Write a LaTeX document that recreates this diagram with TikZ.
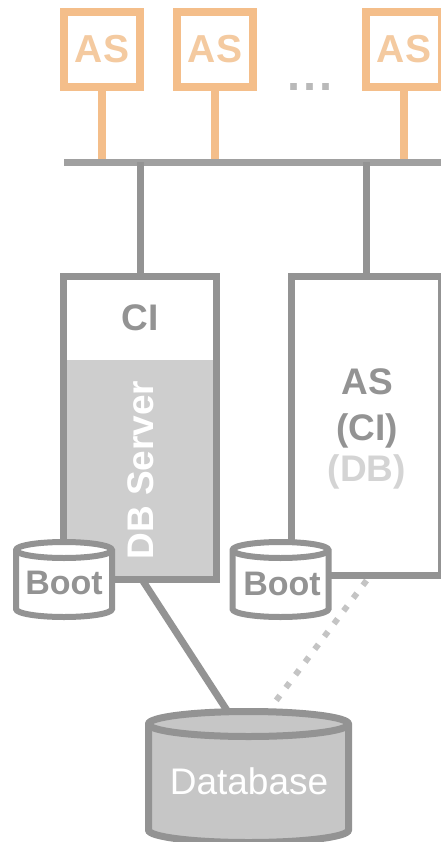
\documentclass[tikz,border=0pt]{standalone}
\usepackage{fontspec}
\setmainfont{Liberation Sans}
\pgfdeclarelayer{bg}
\pgfsetlayers{bg,main}
\definecolor{lgray}{HTML}{939393}
\definecolor{busgray}{HTML}{A0A0A0}
\definecolor{tgray}{HTML}{939393}
\definecolor{fillgray}{HTML}{CECECE}
\definecolor{dbbody}{HTML}{C6C6C6}
\definecolor{dbtopc}{HTML}{D4D4D4}
\definecolor{paledb}{HTML}{D4D4D4}
\definecolor{dotgray}{HTML}{C4C4C4}
\definecolor{asorange}{HTML}{F4BE8A}
\definecolor{astext}{HTML}{F4CAA0}
\newcommand{\mycyl}[6]{%
  \draw[#6] (#1-#4,#2) -- (#1-#4,#3)
     arc[start angle=180,end angle=360,x radius=#4,y radius=#5]
     -- (#1+#4,#2)
     arc[start angle=0,end angle=180,x radius=#4,y radius=#5] -- cycle;
  \draw[#6,fill=none] (#1-#4,#2)
     arc[start angle=180,end angle=360,x radius=#4,y radius=#5];}
\tikzset{
  asbox/.style={draw=asorange, line width=8pt, fill=white, minimum width=76pt,
    minimum height=75pt, inner sep=0pt, outer sep=0pt, text=astext,
    font=\bfseries\fontsize{39}{42}\selectfont},
  graybox/.style={draw=lgray, line width=7pt, fill=white, inner sep=0pt, outer sep=0pt},
  biglabel/.style={font=\bfseries\fontsize{37}{40}\selectfont, text=tgray, inner sep=0pt},
  bootlabel/.style={font=\bfseries\fontsize{34}{38}\selectfont, text=tgray, inner sep=0pt},
  orangelink/.style={draw=asorange, line width=8pt},
  graylink/.style={draw=lgray, line width=7pt},
  buslink/.style={draw=busgray, line width=7pt},
  dotlink/.style={draw=dotgray, line width=6pt, dash pattern=on 6pt off 10pt},
  cylstyle/.style={draw=lgray, line width=6pt, fill=white},
  dbcyl/.style={draw=lgray, line width=7pt, fill=dbbody},
}
\begin{document}
\begin{tikzpicture}[x=1pt,y=1pt]
\useasboundingbox (0,0) rectangle (441,-842);
% application servers
\node[asbox] (as1) at (102,-49.5) {AS};
\node[asbox] (as2) at (215,-49.5) {AS};
\node[asbox] (as3) at (404,-49.5) {AS};
\node[font=\bfseries\fontsize{47}{50}\selectfont, text=lightgray!90!gray, anchor=base, inner sep=0pt] (dots) at (310,-91) {.\kern2.5pt.\kern2.5pt.};
% bus
\coordinate (busL) at (64,-162.5);
\coordinate (busR) at (446,-162.5);
% servers
\node[graybox, minimum width=153pt, minimum height=303pt,
  path picture={\fill[fillgray] (path picture bounding box.south west) rectangle ([yshift=-83.5pt]path picture bounding box.north east);}]
  (dbs) at (140,-428) {};
\draw[lgray, line width=7pt] (dbs.south west) rectangle (dbs.north east);
\node[biglabel] (ci) at (140,-318) {CI};
\node[biglabel, text=white, rotate=90] (dbsl) at (141,-470) {DB Server};
\node[graybox, minimum width=150pt, minimum height=299pt] (asb) at (366.5,-426) {};
\node[biglabel] (asl) at (367,-382) {AS};
\node[biglabel] (cil) at (367,-431) {(CI)};
\node[biglabel, text=paledb] (dbl) at (367,-472) {(DB)};
% boot disks
\mycyl{64}{-550}{-609}{48}{8}{cylstyle}
\node[bootlabel] (boot1) at (64,-583) {Boot};
\mycyl{280.5}{-550}{-609}{48}{8}{cylstyle}
\node[bootlabel] (boot2) at (282,-584) {Boot};
% database
\fill[dbtopc] (248.5,-724) ellipse[x radius=100, y radius=12.5];
\mycyl{248.5}{-724}{-830}{100}{12.5}{dbcyl}
\node[font=\fontsize{37}{40}\selectfont, text=white, inner sep=0pt] (db) at (249,-781) {Database};
\coordinate (dbtop) at (228,-712);
\coordinate (dbdot) at (272,-706);
% connectors
\begin{pgfonlayer}{bg}
\draw[orangelink] (as1.south) -- (as1.south |- busL);
\draw[orangelink] (as2.south) -- (as2.south |- busL);
\draw[orangelink] (as3.south) -- (as3.south |- busL);
\draw[buslink] (busL) -- (busR);
\draw[graylink] (dbs.north) -- (dbs.north |- busL);
\draw[graylink] (asb.north) -- (asb.north |- busL);
\draw[graylink] ([xshift=2pt]dbs.south) -- (dbtop);
\draw[dotlink] ([yshift=-5pt]asb.south) -- (dbdot);
\end{pgfonlayer}
\end{tikzpicture}
\end{document}
